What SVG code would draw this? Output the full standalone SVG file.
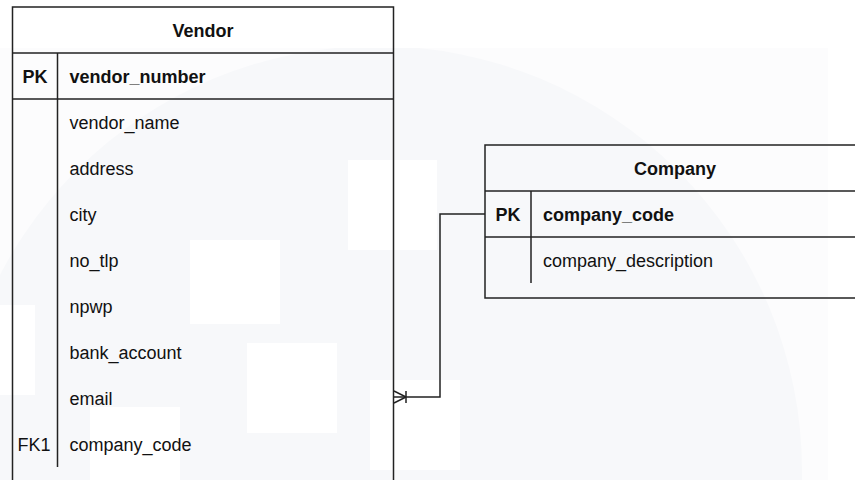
<svg xmlns="http://www.w3.org/2000/svg" width="855" height="480" viewBox="0 0 855 480">
  <style>
    .box { fill: none; stroke: #222; stroke-width: 1.5; }
    .ln { fill: none; stroke: #222; stroke-width: 1.5; }
    .t { font-family: "Liberation Sans", Arial, Helvetica, sans-serif; font-size: 18px; fill: #111; }
    .b { font-weight: bold; }
    .c { text-anchor: middle; }
    .wm { fill: #ffffff; }
  </style>
  <defs>
    <clipPath id="wmclip"><rect x="0" y="48" width="828" height="432"/></clipPath>
  </defs>
  <rect x="0" y="0" width="855" height="480" fill="#ffffff"/>
  <g id="watermark">
    <rect x="0" y="48" width="828" height="432" fill="#fcfcfd"/>
    <circle cx="377" cy="471" r="425" fill="#f7f8fa" clip-path="url(#wmclip)"/>
    <rect class="wm" x="348" y="160" width="89" height="90"/>
    <rect class="wm" x="190" y="240" width="90" height="84"/>
    <rect class="wm" x="247" y="343" width="90" height="90"/>
    <rect class="wm" x="370" y="380" width="90" height="90"/>
    <rect class="wm" x="90" y="407" width="90" height="73"/>
    <rect class="wm" x="0" y="305" width="35" height="90"/>
  </g>
  <g id="vendor">
    <rect class="box" x="12.5" y="7" width="381" height="490"/>
    <line class="ln" x1="12.5" y1="53" x2="393.5" y2="53"/>
    <line class="ln" x1="12.5" y1="99" x2="393.5" y2="99"/>
    <line class="ln" x1="57.5" y1="53" x2="57.5" y2="99"/>
    <line class="ln" x1="57.5" y1="99" x2="57.5" y2="467"/>
    <text class="t b c" x="203" y="36.5">Vendor</text>
    <text class="t b c" x="35" y="82.5">PK</text>
    <text class="t b" x="69.5" y="82.5">vendor_number</text>
    <text class="t" x="69.5" y="128.5">vendor_name</text>
    <text class="t" x="69.5" y="174.5">address</text>
    <text class="t" x="69.5" y="220.5">city</text>
    <text class="t" x="69.5" y="266.5">no_tlp</text>
    <text class="t" x="69.5" y="312.5">npwp</text>
    <text class="t" x="69.5" y="358.5">bank_account</text>
    <text class="t" x="69.5" y="404.5">email</text>
    <text class="t c" x="34" y="450.5">FK1</text>
    <text class="t" x="69.5" y="450.5">company_code</text>
  </g>
  <g id="company">
    <rect class="box" x="485" y="145" width="380" height="153"/>
    <line class="ln" x1="485" y1="191" x2="865" y2="191"/>
    <line class="ln" x1="485" y1="237" x2="865" y2="237"/>
    <line class="ln" x1="531" y1="191" x2="531" y2="283"/>
    <text class="t b c" x="675" y="174.5">Company</text>
    <text class="t b c" x="508" y="220.5">PK</text>
    <text class="t b" x="543" y="220.5">company_code</text>
    <text class="t" x="543" y="266.5">company_description</text>
  </g>
  <g id="connectors">
    <polyline class="ln" points="485,214 440,214 440,397 394,397"/>
    <line class="ln" x1="394" y1="391" x2="406" y2="397"/>
    <line class="ln" x1="394" y1="403" x2="406" y2="397"/>
    <line class="ln" x1="406" y1="391" x2="406" y2="403"/>
  </g>
</svg>
